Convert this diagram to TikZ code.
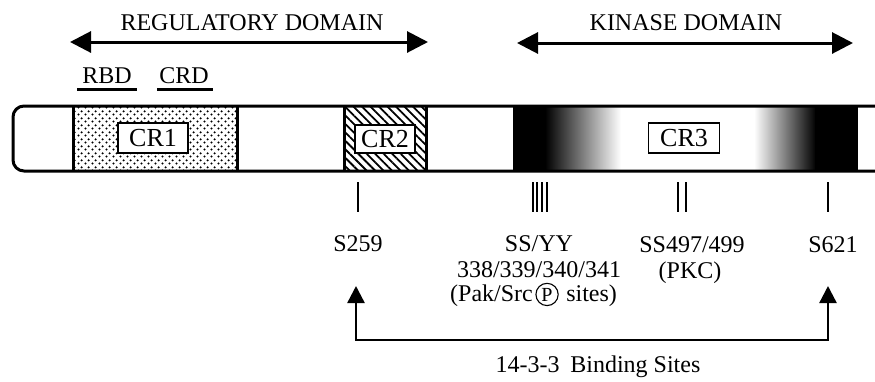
\documentclass[tikz,border=0pt]{standalone}
\usepackage{fontspec}
\setmainfont{Liberation Serif}
\usetikzlibrary{positioning, arrows.meta, patterns.meta}

\tikzdeclarepattern{
  name=crdots, type=uncolored,
  bounding box={(0pt,0pt) and (7pt,7pt)},
  tile size={(7pt,7pt)},
  code={\fill (1.75pt,1.75pt) circle (1.3pt); \fill (5.25pt,5.25pt) circle (1.3pt);}
}

\begin{document}
\begin{tikzpicture}[x=1pt, y=-1pt,
  lbl/.style={font=\fontsize{24}{26}\selectfont, inner sep=0pt},
  crbox/.style={draw, line width=1.6pt, fill=white, font=\fontsize{26}{28}\selectfont,
    minimum width=70pt, minimum height=30pt, inner sep=0pt},
  domarrow/.style={line width=3pt, {Triangle[length=21pt,width=21pt]}-{Triangle[length=21pt,width=21pt]}},
  bindarrow/.style={line width=2.4pt, {Triangle[length=17pt,width=17pt]}-{Triangle[length=17pt,width=17pt]}},
  site/.style={line width=1.3pt}]
  \useasboundingbox (0,0) rectangle (875,381);

  % domains
  \coordinate (regL) at (70,42);
  \coordinate (regR) at (428,42);
  \draw[domarrow] (regL) -- (regR);
  \node[lbl, anchor=base] (reg) at (252,30) {REGULATORY DOMAIN};
  \coordinate (kinL) at (517,43);
  \coordinate (kinR) at (853,43);
  \draw[domarrow] (kinL) -- (kinR);
  \node[lbl, anchor=base] (kin) at (686,30) {KINASE DOMAIN};

  \node[lbl, anchor=base] (rbd) at (107,83) {RBD};
  \draw[line width=3pt] (77,89) -- (137,89);
  \node[lbl, anchor=base] (crd) at (184,83) {CRD};
  \draw[line width=3pt] (157,89) -- (213,89);

  % the bar
  \fill[pattern=crdots] (73,106) rectangle (237,171);
  \fill[pattern={Lines[angle=-45,distance=6pt,line width=1.8pt]}] (344,106) rectangle (426,171);
  \fill[black] (513,106) rectangle (546,171);
  \shade[left color=black, right color=white] (545,106) rectangle (621,171);
  \shade[left color=white, right color=black] (754,106) rectangle (816,171);
  \fill[black] (815,106) rectangle (858,171);

  \draw[line width=3pt, rounded corners=11pt] (880,106) -- (13,106) -- (13,171) -- (880,171);
  \draw[line width=3pt] (73,106) -- (73,171) (237,106) -- (237,171);
  \draw[line width=3pt] (344,106) -- (344,171) (426,106) -- (426,171);

  \node[crbox] (cr1) at (153,138) {CR1};
  \node[crbox, minimum width=60pt, minimum height=28pt] (cr2) at (385,139) {CR2};
  \node[crbox, minimum width=71pt] (cr3) at (684,138) {CR3};

  % sites
  \draw[site] (358,182) -- (358,212);
  \draw[site] (533,182) -- (533,212);
  \draw[site] (537,182) -- (537,212);
  \draw[site] (542,182) -- (542,212);
  \draw[site] (547,182) -- (547,212);
  \draw[site] (678,182) -- (678,212);
  \draw[site] (686,182) -- (686,212);
  \draw[site] (828,182) -- (828,212);

  \node[lbl, anchor=base] (s259) at (358,251) {S259};
  \node[lbl, anchor=base] (ssyy) at (539,251) {SS/YY};
  \node[lbl, anchor=base] (ssnum) at (539,277) {338/339/340/341};
  \node[lbl, anchor=base west] (pak) at (450,301) {(Pak/Src};
  \node[draw, circle, line width=1.1pt, inner sep=1.8pt, font=\fontsize{20}{21}\selectfont,
    anchor=base] (pcirc) at ([xshift=14pt]pak.base east) {P};
  \node[lbl, anchor=base west] (sites) at ([xshift=33pt]pak.base east) {sites)};
  \node[lbl, anchor=base] (ss497) at (692,252) {SS497/499};
  \node[lbl, anchor=base] (pkc) at (690,278) {(PKC)};
  \node[lbl, anchor=base] (s621) at (833,252) {S621};

  % 14-3-3
  \coordinate (tipL) at (356,286);
  \coordinate (bindL) at (356,340);
  \coordinate (bindR) at (828,340);
  \coordinate (tipR) at (828,286);
  \draw[bindarrow] (tipL) -- (bindL) -- (bindR) -- (tipR);
  \node[lbl, anchor=base] (bind) at (598,372) {14-3-3\hspace{0.45em}Binding Sites};
\end{tikzpicture}
\end{document}
